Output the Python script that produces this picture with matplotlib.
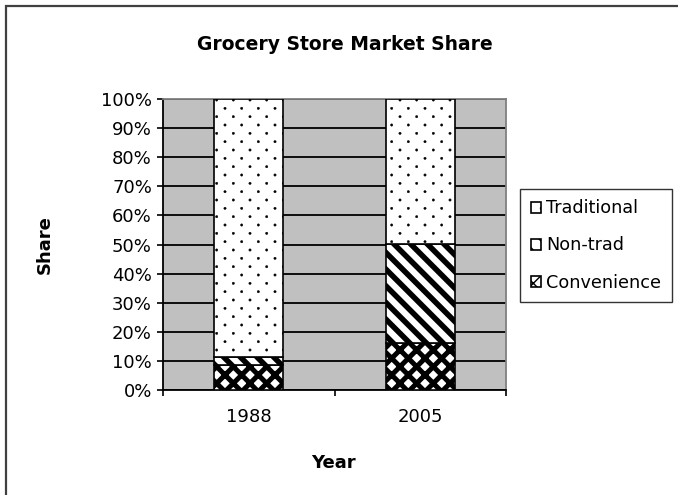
import matplotlib
matplotlib.use("Agg")
import numpy as np
import matplotlib.pyplot as plt
import matplotlib.hatch as mhatch
from matplotlib.patches import Rectangle
from matplotlib.ticker import FixedLocator, PercentFormatter

# Market share by store type (percent of total)
years = ["1988", "2005"]
convenience = [8.5, 16.0]
non_trad = [2.7, 34.3]
traditional = [88.8, 49.7]
y_ticks = [0, 10, 20, 30, 40, 50, 60, 70, 80, 90, 100]


class StaggeredDots(mhatch.SmallFilledCircles):
    """'.' hatch with small dots, rows packed twice as tight as the columns."""
    size = 0.07

    def __init__(self, hatch, density):
        super().__init__(hatch, density)
        n = self.num_rows
        if n == 0:
            self.num_shapes = 0
            self.num_vertices = 0
        else:
            self.num_shapes = (n + 1) ** 2 + n ** 2
            self.num_vertices = self.num_shapes * len(self.shape_vertices)

    def set_vertices_and_codes(self, vertices, codes):
        n = self.num_rows
        offset = 1.0 / n
        shape_vertices = self.shape_vertices * offset * self.size
        parts_v, parts_c = [], []
        for row in range(2 * n + 1):
            if row % 2 == 0:
                cols = np.linspace(0, 1, n + 1)
            else:
                cols = np.linspace(offset / 2, 1 - offset / 2, n)
            row_pos = row * offset / 2
            for col_pos in cols:
                parts_v.append(shape_vertices + [col_pos, row_pos])
                parts_c.append(self.shape_codes)
        np.concatenate(parts_v, out=vertices)
        np.concatenate(parts_c, out=codes)


mhatch._hatch_types = [StaggeredDots if t is mhatch.SmallFilledCircles else t
                       for t in mhatch._hatch_types]

plt.rcParams["font.family"] = ["DejaVu Sans"]

W, H = 678, 495
fig = plt.figure(figsize=(W / 100, H / 100), dpi=100)
fig.patch.set_facecolor("white")

# outer chart frame
fig.add_artist(Rectangle((6 / W, -0.05), 1.2, 1 - 6 / H + 0.05,
                         transform=fig.transFigure, fill=False,
                         edgecolor="#404040", linewidth=1.6))

ax = fig.add_axes([163 / W, 1 - 390 / H, (506 - 163) / W, (390 - 99) / H])
ax.set_facecolor("#C0C0C0")
ax.set_axisbelow(True)

x = list(range(len(years)))
bw = 0.4


def stack(values, bottom, hatch, hlw, label):
    bars = ax.bar(x, values, bw, bottom=bottom, color="white",
                  edgecolor="black", linewidth=1.2, hatch=hatch, label=label,
                  zorder=3)
    for b in bars:
        if hasattr(b, "set_hatch_linewidth"):
            b.set_hatch_linewidth(hlw)
    return bars


b1 = stack(convenience, 0, "xx", 3.6, "Convenience")
bottom2 = list(convenience)
b2 = stack(non_trad, bottom2, "\\\\", 4.0, "Non-trad")
bottom3 = [c + n for c, n in zip(convenience, non_trad)]
b3 = stack(traditional, bottom3, ".", 0.3, "Traditional")

ax.set_xlim(-0.5, 1.5)
ax.set_ylim(0, 100)
ax.yaxis.set_major_locator(FixedLocator(y_ticks))
ax.yaxis.set_major_formatter(PercentFormatter(decimals=0))
ax.grid(axis="y", color="black", linewidth=1.3)
ax.set_xticks(x)
ax.set_xticklabels(years)
ax.xaxis.set_minor_locator(FixedLocator([-0.5, 0.5, 1.5]))
ax.tick_params(axis="x", which="major", length=0, pad=13, labelsize=13)
ax.tick_params(axis="x", which="minor", length=4, width=1.2, direction="out")
ax.tick_params(axis="y", length=4, width=1.2, direction="out", pad=4,
               labelsize=13)
for s in ("left", "bottom"):
    ax.spines[s].set_color("black")
    ax.spines[s].set_linewidth(1.3)
for s in ("top", "right"):
    ax.spines[s].set_color("#808080")
    ax.spines[s].set_linewidth(1.3)

fig.text(345 / W, 1 - 45 / H, "Grocery Store Market Share", ha="center",
         va="center", fontsize=13.5, fontweight="bold")
fig.text(45 / W, 1 - 245 / H, "Share", ha="center", va="center",
         rotation=90, fontsize=13, fontweight="bold")
fig.text(333 / W, 1 - 463 / H, "Year", ha="center", va="center",
         fontsize=13, fontweight="bold")

handles = [b3, b2, b1]
leg = fig.legend(handles, ["Traditional", "Non-trad", "Convenience"],
                 loc="center left", bbox_to_anchor=(520 / W, 1 - 245.5 / H),
                 fontsize=12.7, frameon=True, fancybox=False,
                 edgecolor="black", handlelength=0.6, handleheight=0.6,
                 handletextpad=0.3, labelspacing=1.08, borderpad=0.6,
                 borderaxespad=0)
leg.get_frame().set_linewidth(1.0)
leg.get_frame().set_facecolor("white")

fig.savefig("out.png", dpi=100)
